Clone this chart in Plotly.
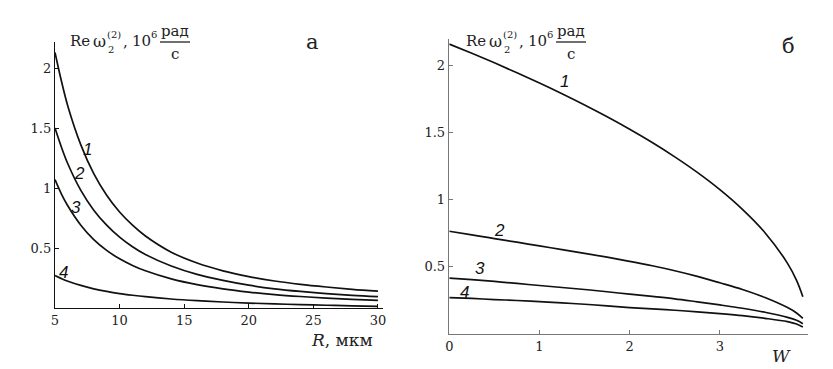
import plotly.graph_objects as go

# ---- Panel a: Re omega vs R (мкм) ----
R = [5, 5.5, 6, 7, 8, 9, 10, 11, 12, 14, 16, 18, 20, 22, 24, 26, 28, 30]
a_curve1 = [2.13, 1.89, 1.68, 1.36, 1.12, 0.94, 0.80, 0.69, 0.60, 0.465, 0.375, 0.31, 0.262, 0.225, 0.197, 0.175, 0.156, 0.14]
a_curve2 = [1.50, 1.34, 1.20, 0.98, 0.815, 0.69, 0.59, 0.51, 0.445, 0.35, 0.28, 0.23, 0.19, 0.16, 0.138, 0.12, 0.106, 0.095]
a_curve3 = [1.07, 0.95, 0.85, 0.69, 0.57, 0.48, 0.41, 0.355, 0.31, 0.243, 0.195, 0.16, 0.133, 0.112, 0.096, 0.083, 0.072, 0.063]
a_curve4 = [0.27, 0.245, 0.223, 0.188, 0.16, 0.138, 0.12, 0.106, 0.094, 0.075, 0.061, 0.05, 0.041, 0.034, 0.028, 0.023, 0.018, 0.014]

# ---- Panel б: Re omega vs W ----
W = [0, 0.25, 0.5, 0.75, 1, 1.25, 1.5, 1.75, 2, 2.25, 2.5, 2.75, 3, 3.25, 3.5, 3.75, 3.85, 3.92]
b_curve1 = [2.162, 2.093, 2.022, 1.948, 1.871, 1.791, 1.707, 1.619, 1.526, 1.427, 1.320, 1.204, 1.075, 0.928, 0.754, 0.525, 0.398, 0.276]
b_curve2 = [0.765, 0.738, 0.71, 0.683, 0.655, 0.628, 0.60, 0.571, 0.54, 0.507, 0.47, 0.428, 0.38, 0.33, 0.27, 0.195, 0.155, 0.115]
b_curve3 = [0.415, 0.403, 0.39, 0.375, 0.36, 0.345, 0.33, 0.313, 0.295, 0.278, 0.26, 0.238, 0.215, 0.19, 0.16, 0.122, 0.10, 0.075]
b_curve4 = [0.27, 0.263, 0.255, 0.248, 0.24, 0.23, 0.22, 0.208, 0.195, 0.185, 0.175, 0.163, 0.15, 0.135, 0.115, 0.09, 0.072, 0.05]

curve_names = ["1", "2", "3", "4"]
a_label_pos = [(7.55, 1.32), (6.93, 1.125), (6.63, 0.84), (5.62, 0.30)]
b_label_pos = [(1.28, 1.88), (0.56, 0.774), (0.34, 0.49), (0.17, 0.31)]

a_xticks = [5, 10, 15, 20, 25, 30]
a_yticks = [0.5, 1, 1.5, 2]
a_yticklabels = ["0.5", "1", "1.5", "2"]
b_xticks = [0, 1, 2, 3]
b_yticks = [0.5, 1, 1.5, 2]
b_yticklabels = ["0.5", "1", "1.5", "2"]

W_PX, H_PX = 833, 369
SERIF = "DejaVu Serif"
SANS = "Liberation Sans"
LINE = dict(color="#111111", width=1.7)

fig = go.Figure()
for ys in [a_curve1, a_curve2, a_curve3, a_curve4]:
    fig.add_trace(go.Scatter(x=R, y=ys, mode="lines", line=dict(**LINE, shape="spline", smoothing=1.0),
                             xaxis="x", yaxis="y", showlegend=False, hoverinfo="skip"))
for ys in [b_curve1, b_curve2, b_curve3, b_curve4]:
    fig.add_trace(go.Scatter(x=W, y=ys, mode="lines", line=dict(**LINE, shape="spline", smoothing=1.0),
                             xaxis="x2", yaxis="y2", showlegend=False, hoverinfo="skip"))

def px_x(p):
    return p / W_PX

def px_y(p):
    return 1 - p / H_PX

tickfont = dict(family=SERIF, size=13, color="#222")

fig.update_layout(
    width=W_PX, height=H_PX,
    margin=dict(l=0, r=0, t=0, b=0),
    paper_bgcolor="white", plot_bgcolor="white",
    xaxis=dict(domain=[px_x(55), px_x(383)], range=[5, 30.39], anchor="y",
               tickvals=a_xticks, ticktext=[str(t) for t in a_xticks],
               ticks="inside", ticklen=4, tickcolor="#111", showgrid=False, zeroline=False,
               showline=True, linecolor="#111", linewidth=1.2, tickfont=tickfont, automargin=False),
    yaxis=dict(domain=[px_y(308), px_y(42)], range=[0, 2.217], anchor="x",
               tickvals=a_yticks, ticktext=a_yticklabels,
               ticks="inside", ticklen=4, tickcolor="#111", showgrid=False, zeroline=False,
               showline=True, linecolor="#111", linewidth=1.2, tickfont=tickfont, automargin=False),
    xaxis2=dict(domain=[px_x(449.3), px_x(808)], range=[0, 3.977], anchor="y2",
                tickvals=b_xticks, ticktext=[str(t) for t in b_xticks],
                ticks="inside", ticklen=4, tickcolor="#777", showgrid=False, zeroline=False,
                showline=True, linecolor="#777", linewidth=1.6, tickfont=tickfont, automargin=False),
    yaxis2=dict(domain=[px_y(333.7), px_y(39)], range=[0, 2.2], anchor="x2",
                tickvals=b_yticks, ticktext=b_yticklabels,
                ticks="inside", ticklen=4, tickcolor="#777", showgrid=False, zeroline=False,
                showline=True, linecolor="#777", linewidth=1.6, tickfont=tickfont, automargin=False),
)

ann = []
for name, (x, y) in zip(curve_names, a_label_pos):
    ann.append(dict(x=x, y=y, xref="x", yref="y", text=f"<i>{name}</i>", showarrow=False,
                    font=dict(family=SANS, size=17, color="#111")))
for name, (x, y) in zip(curve_names, b_label_pos):
    ann.append(dict(x=x, y=y, xref="x2", yref="y2", text=f"<i>{name}</i>", showarrow=False,
                    font=dict(family=SANS, size=17, color="#111")))

def txt(xp, yp, text, size=15, xanchor="left", family=SERIF):
    ann.append(dict(x=px_x(xp), y=px_y(yp), xref="paper", yref="paper", text=text,
                    showarrow=False, xanchor=xanchor, yanchor="middle",
                    font=dict(family=family, size=size, color="#222")))

shapes = []

def ytitle(x0):
    txt(x0, 41, "Re", 15)
    txt(x0 + 23, 41, "ω", 16)
    txt(x0 + 38, 50, "2", 10)
    txt(x0 + 37, 34, "(2)", 10)
    txt(x0 + 53, 42, ",", 15)
    txt(x0 + 62, 41, "10", 15)
    txt(x0 + 81, 34, "6", 10)
    txt(x0 + 107, 31, "рад", 15, xanchor="center")
    txt(x0 + 107, 54, "с", 15, xanchor="center")
    shapes.append(dict(type="line", xref="paper", yref="paper",
                       x0=px_x(x0 + 92), x1=px_x(x0 + 122), y0=px_y(42), y1=px_y(42),
                       line=dict(color="#222", width=1.3)))

ytitle(68)
ytitle(464)

txt(309, 340, "<i>R</i>, мкм", 17)
txt(781, 356, "<i>W</i>", 17, xanchor="center")

txt(312, 42, "а", 21, xanchor="center")
txt(788, 46, "б", 21, xanchor="center")

fig.update_layout(annotations=ann, shapes=shapes)
fig.write_html("out.html", config={"displayModeBar": False, "staticPlot": True},
               post_script="document.body.style.margin='0';document.body.style.overflow='hidden';")
